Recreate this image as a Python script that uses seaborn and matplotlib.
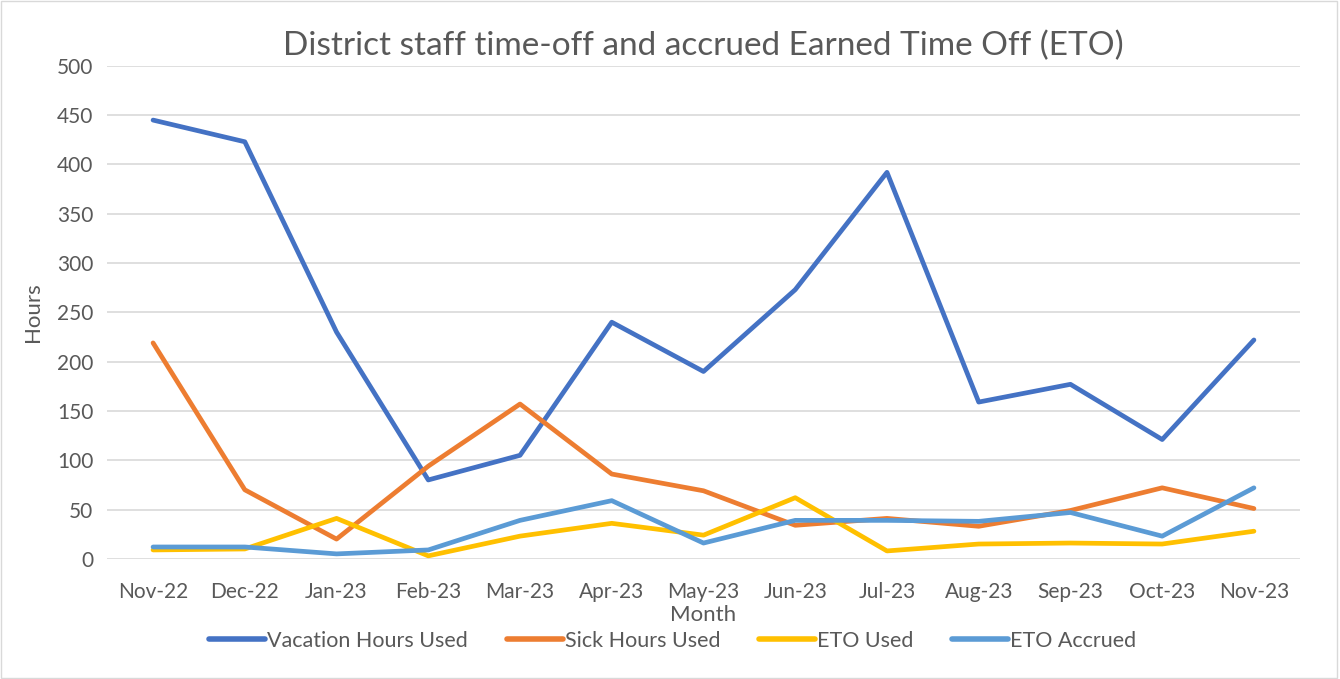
import pandas as pd
import seaborn as sns
import matplotlib.pyplot as plt
from matplotlib.patches import Rectangle

months = ["Nov-22", "Dec-22", "Jan-23", "Feb-23", "Mar-23", "Apr-23", "May-23",
          "Jun-23", "Jul-23", "Aug-23", "Sep-23", "Oct-23", "Nov-23"]
vacation = [445, 423, 230, 80, 105, 240, 190, 273, 392, 159, 177, 121, 222]
sick = [219, 70, 20, 94, 157, 86, 69, 34, 41, 33, 49, 72, 51]
eto_used = [9, 10, 41, 3, 23, 36, 24, 62, 8, 15, 16, 15, 28]
eto_accrued = [12, 12, 5, 9, 39, 59, 16, 39, 39, 38, 47, 23, 72]

series = ["Vacation Hours Used", "Sick Hours Used", "ETO Used", "ETO Accrued"]
colors = ["#4472C4", "#ED7D31", "#FFC000", "#5B9BD5"]

df = pd.DataFrame({"Month": months, series[0]: vacation, series[1]: sick,
                   series[2]: eto_used, series[3]: eto_accrued})
long = df.melt(id_vars="Month", var_name="series", value_name="Hours")

sns.set_style("white")
plt.rcParams["font.family"] = ["Lato", "DejaVu Sans"]
grey = "#595959"

fig = plt.figure(figsize=(13.4, 6.79), dpi=100)
ax = fig.add_axes([0.08, 0.177, 0.89, 0.726])

sns.lineplot(data=long, x="Month", y="Hours", hue="series", hue_order=series,
             palette=colors, linewidth=3.4, sort=False, ax=ax, legend=False)

ax.set_xlim(-0.5, len(months) - 0.5)
ax.set_ylim(0, 500)
ax.set_yticks(range(0, 501, 50))
ax.grid(axis="y", color="#d9d9d9", linewidth=1.2)
ax.set_axisbelow(True)
for s in ax.spines.values():
    s.set_visible(False)
ax.tick_params(axis="y", colors=grey, labelsize=15, length=0, pad=10)
ax.tick_params(axis="x", colors=grey, labelsize=15, length=0, pad=17)
ax.set_xlabel("Month", fontsize=16, color=grey, labelpad=2)
ax.set_ylabel("Hours", fontsize=16, color=grey, labelpad=10)
ax.set_title("District staff time-off and accrued Earned Time Off (ETO)",
             fontsize=24, color=grey, pad=8)

handles = [plt.Line2D([], [], color=c, linewidth=4, solid_capstyle="round") for c in colors]
fig.legend(handles, series, loc="center", bbox_to_anchor=(0.502, 0.056), ncol=4,
           frameon=False, fontsize=15.5, labelcolor=grey, handlelength=2.6,
           handletextpad=0.1, columnspacing=1.8)

fig.patches.append(Rectangle((0.001, 0.001), 0.997, 0.997, transform=fig.transFigure,
                             fill=False, edgecolor="#d9d9d9", linewidth=1))

fig.savefig("out.png", dpi=100)
